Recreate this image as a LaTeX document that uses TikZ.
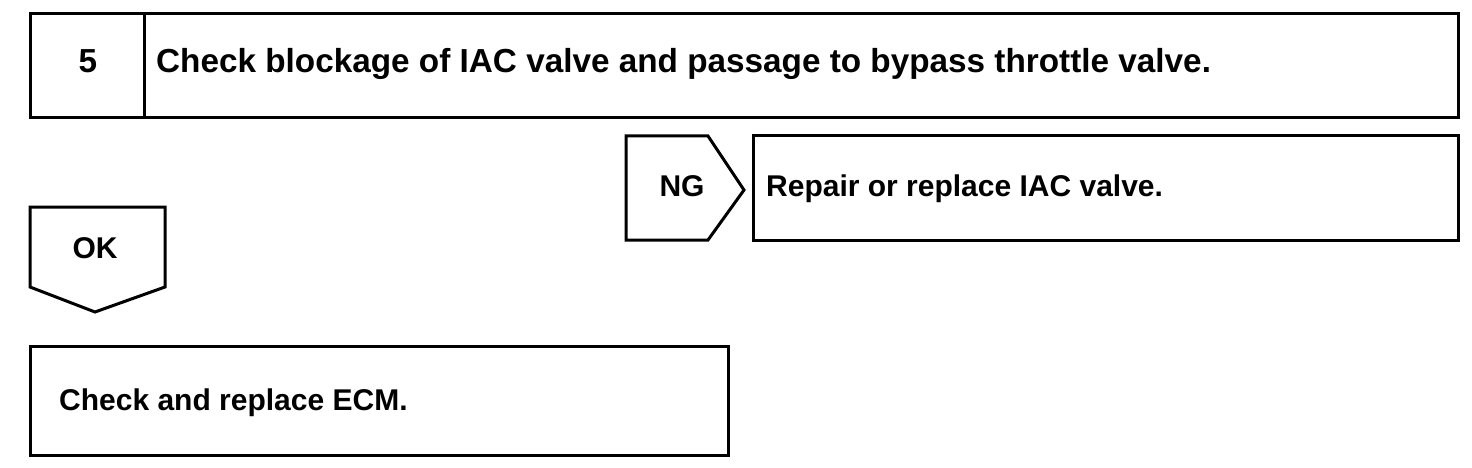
\documentclass[tikz,border=0pt]{standalone}
\usepackage{fontspec}
\setmainfont{Liberation Sans}
\begin{document}
\begin{tikzpicture}[x=1pt,y=-1pt,
  frame/.style={draw=black,line width=3pt,line join=miter},
  lbl/.style={inner sep=0pt,font=\fontsize{30}{36}\selectfont\bfseries},
  biglbl/.style={inner sep=0pt,font=\fontsize{33.3}{40}\selectfont\bfseries}]
\useasboundingbox[fill=white] (0,0) rectangle (1472,468);
% title box
\draw[frame] (30,14) rectangle (1458,118);
\draw[frame] (144,14) -- (144,118);
\node[biglbl,anchor=base] (num) at (88,73) {5};
\node[biglbl,anchor=base west] (title) at (156,73) {Check blockage of IAC valve and passage to bypass throttle valve.};
% NG tag
\draw[frame] (626,136) -- (708,136) -- (744,190) -- (708,240) -- (626,240) -- cycle;
\node[lbl,anchor=base] (ng) at (682,196) {NG};
% repair box
\draw[frame] (753,136) rectangle (1458,240);
\node[lbl,anchor=base west] (repair) at (766,196) {Repair or replace IAC valve.};
% OK tag
\draw[frame] (30,207) -- (165,207) -- (165,287) -- (95,312) -- (30,287) -- cycle;
\node[lbl,anchor=base] (ok) at (95,258) {OK};
% ECM box
\draw[frame] (30,346) rectangle (728,455);
\node[lbl,anchor=base west] (ecm) at (59,410) {Check and replace ECM.};
\end{tikzpicture}
\end{document}
